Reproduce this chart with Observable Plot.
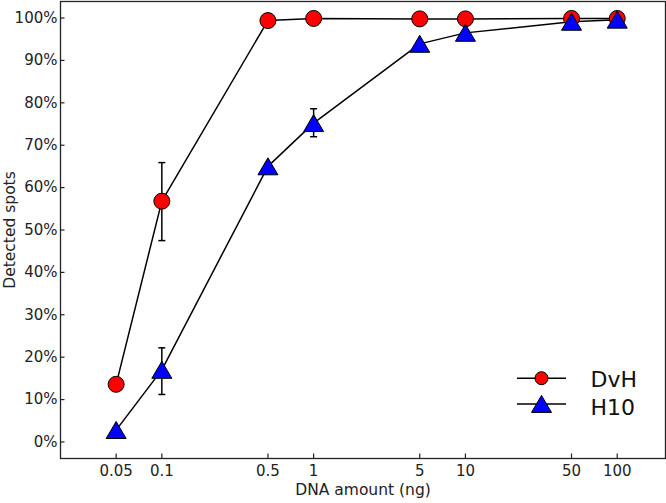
<!DOCTYPE html>
<html>
<head>
<meta charset="utf-8">
<script src="https://cdn.jsdelivr.net/npm/d3@7"></script>
<script src="https://cdn.jsdelivr.net/npm/@observablehq/plot@0.6"></script>
<style>
  html, body { margin: 0; padding: 0; background: #fff; }
</style>
</head>
<body>
<div id="chart"></div>
<script>
// ---- data ----
const doses = [0.05, 0.1, 0.5, 1, 5, 10, 50, 100];
const dvhValues = [13.6, 56.8, 99.4, 99.9, 99.8, 99.8, 99.9, 99.9];
const h10Values = [2.8, 17.0, 65.0, 75.2, 93.9, 96.5, 99.1, 99.6];

const dvhErrX = [0.1];
const dvhErrLo = [47.5];
const dvhErrHi = [65.9];
const h10ErrX = [0.1, 1];
const h10ErrLo = [11.2, 72.0];
const h10ErrHi = [22.2, 78.6];

const xTicks = [0.05, 0.1, 0.5, 1, 5, 10, 50, 100];
const xTickLabels = ["0.05", "0.1", "0.5", "1", "5", "10", "50", "100"];
const yTicks = [0, 10, 20, 30, 40, 50, 60, 70, 80, 90, 100];
const yTickLabels = ["0%", "10%", "20%", "30%", "40%", "50%", "60%", "70%", "80%", "90%", "100%"];
const seriesNames = ["DvH", "H10"];
const xLabel = "DNA amount (ng)";
const yLabel = "Detected spots";

// ---- tables ----
const dvh = doses.map((d, i) => ({x: d, y: dvhValues[i]}));
const h10 = doses.map((d, i) => ({x: d, y: h10Values[i]}));
const errs = [
  ...dvhErrX.map((d, i) => ({x: d, lo: dvhErrLo[i], hi: dvhErrHi[i]})),
  ...h10ErrX.map((d, i) => ({x: d, lo: h10ErrLo[i], hi: h10ErrHi[i]}))
];
const caps = errs.flatMap(e => [{x: e.x, y: e.lo}, {x: e.x, y: e.hi}]);
const xTickData = xTicks.map((d, i) => ({v: d, label: xTickLabels[i]}));
const yTickData = yTicks.map((d, i) => ({v: d, label: yTickLabels[i]}));

// ---- custom symbols ----
const triangleBox = {draw(ctx) { ctx.moveTo(0, -8.6); ctx.lineTo(10, 8.4); ctx.lineTo(-10, 8.4); ctx.closePath(); }};
const capSymbol = {draw(ctx) { ctx.moveTo(-3.5, 0); ctx.lineTo(3.5, 0); }};
const legendLine = {draw(ctx) { ctx.moveTo(-24.5, 0); ctx.lineTo(24.5, 0); }};

const font = "DejaVu Sans, Verdana, sans-serif";
const W = 666, H = 503, ML = 60, MR = 1, MT = 1, MB = 45;
const frameW = W - ML - MR, frameH = H - MT - MB, tickLen = 4.5;

const plot = Plot.plot({
  width: W,
  height: H,
  marginLeft: ML,
  marginRight: MR,
  marginTop: MT,
  marginBottom: MB,
  style: {fontFamily: font, fontSize: "15px", color: "#222", background: "#fff"},
  x: {type: "log", domain: [0.0215, 208], axis: null},
  y: {domain: [-3.9, 103.9], axis: null},
  marks: [
    Plot.frame({stroke: "#222", strokeWidth: 1.3}),
    // ticks (pointing inward)
    Plot.ruleY(yTickData, {y: "v", insetRight: frameW - tickLen, stroke: "#222", strokeWidth: 1.2}),
    Plot.ruleX(xTickData, {x: "v", insetTop: frameH - tickLen, stroke: "#222", strokeWidth: 1.2}),
    // tick labels
    Plot.text(yTickData, {y: "v", text: "label", frameAnchor: "left", textAnchor: "end", lineAnchor: "middle", dx: -3, fontSize: 15, fill: "#222"}),
    Plot.text(xTickData, {x: "v", text: "label", frameAnchor: "bottom", textAnchor: "middle", lineAnchor: "top", dy: 7, fontSize: 15, fill: "#222"}),
    // axis titles
    Plot.text([xLabel], {text: d => d, frameAnchor: "bottom", lineAnchor: "middle", textAnchor: "middle", dy: 32, fontSize: 15.5, fill: "#222"}),
    Plot.text([yLabel], {text: d => d, frameAnchor: "left", lineAnchor: "middle", textAnchor: "middle", dx: -50, rotate: -90, fontSize: 15.5, fill: "#222"}),
    // data
    Plot.line(dvh, {x: "x", y: "y", stroke: "black", strokeWidth: 1.5}),
    Plot.line(h10, {x: "x", y: "y", stroke: "black", strokeWidth: 1.5}),
    Plot.ruleX(errs, {x: "x", y1: "lo", y2: "hi", stroke: "black", strokeWidth: 1.5}),
    Plot.dot(caps, {x: "x", y: "y", symbol: capSymbol, stroke: "black", strokeWidth: 1.5}),
    Plot.dot(dvh, {x: "x", y: "y", r: 8, fill: "#ff0000", stroke: "black", strokeWidth: 1}),
    Plot.dot(h10, {x: "x", y: "y", symbol: triangleBox, fill: "#0000ff", stroke: "black", strokeWidth: 1}),
    // legend
    Plot.dot([seriesNames[0]], {frameAnchor: "bottom-right", dx: -124, dy: -80.3, symbol: legendLine, stroke: "black", strokeWidth: 1.5}),
    Plot.dot([seriesNames[1]], {frameAnchor: "bottom-right", dx: -124, dy: -54.5, symbol: legendLine, stroke: "black", strokeWidth: 1.5}),
    Plot.dot([seriesNames[0]], {frameAnchor: "bottom-right", dx: -124, dy: -80.3, r: 6.5, fill: "#ff0000", stroke: "black", strokeWidth: 1}),
    Plot.dot([seriesNames[1]], {frameAnchor: "bottom-right", dx: -124, dy: -54.5, symbol: triangleBox, fill: "#0000ff", stroke: "black", strokeWidth: 1}),
    Plot.text([seriesNames[0]], {text: d => d, frameAnchor: "bottom-right", dx: -75, dy: -78.3, textAnchor: "start", lineAnchor: "middle", fontSize: 22, fill: "#111"}),
    Plot.text([seriesNames[1]], {text: d => d, frameAnchor: "bottom-right", dx: -75, dy: -51, textAnchor: "start", lineAnchor: "middle", fontSize: 22, fill: "#111"})
  ]
});
document.getElementById("chart").appendChild(plot);
</script>
</body>
</html>
